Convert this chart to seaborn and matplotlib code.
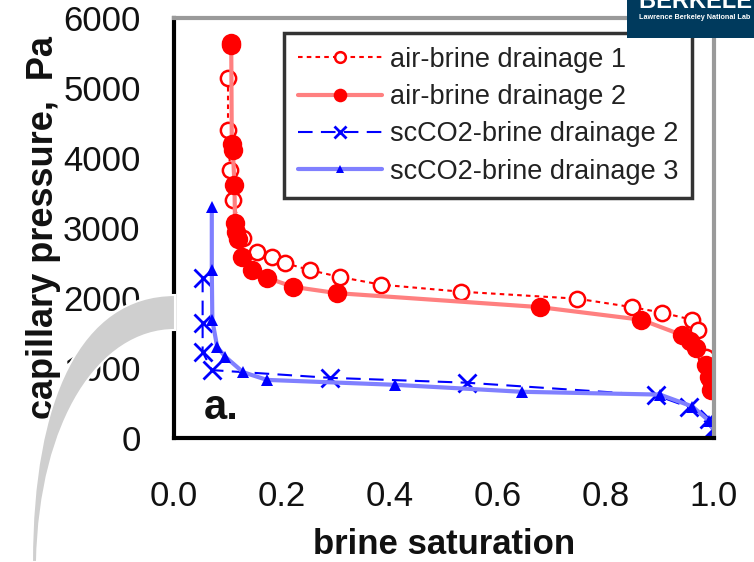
import matplotlib
matplotlib.use("Agg")
import matplotlib.pyplot as plt
import seaborn as sns
from matplotlib.path import Path
from matplotlib.patches import PathPatch, Rectangle

# Capillary pressure (Pa) versus brine saturation for four drainage runs
ab1_sat = [0.100, 0.100, 0.104, 0.109, 0.128, 0.153, 0.181, 0.205, 0.251, 0.307,
           0.384, 0.532, 0.747, 0.848, 0.904, 0.959, 0.970, 0.985, 0.993]
ab1_pc = [5140, 4400, 3830, 3400, 2860, 2660, 2590, 2500, 2400, 2300,
          2190, 2090, 1990, 1870, 1790, 1690, 1540, 1160, 830]

ab2_sat = [0.105, 0.106, 0.107, 0.109, 0.112, 0.113, 0.115, 0.118, 0.126, 0.144,
           0.172, 0.220, 0.301, 0.677, 0.865, 0.941, 0.955, 0.967, 0.985, 0.991, 0.995]
ab2_pc = [5640, 5620, 4200, 4110, 3610, 3070, 2940, 2850, 2590, 2400,
          2290, 2160, 2070, 1870, 1690, 1470, 1380, 1290, 1050, 870, 690]

co2_2_sat = [0.053, 0.053, 0.053, 0.070, 0.288, 0.542, 0.893, 0.954, 0.990, 0.998]
co2_2_pc = [2290, 1640, 1230, 970, 860, 790, 610, 440, 270, 130]

co2_3_sat = [0.070, 0.070, 0.071, 0.080, 0.095, 0.128, 0.172, 0.409, 0.645, 0.900,
             0.960, 0.990, 1.000]
co2_3_pc = [3300, 2400, 1680, 1300, 1160, 940, 830, 760, 660, 620, 450, 250, 100]

series_labels = ["air-brine drainage 1", "air-brine drainage 2",
                 "scCO2-brine drainage 2", "scCO2-brine drainage 3"]
x_ticks = [0.0, 0.2, 0.4, 0.6, 0.8, 1.0]
y_ticks = [0, 1000, 2000, 3000, 4000, 5000, 6000]

sns.set_theme(style="white")
plt.rcParams["font.family"] = ["Liberation Sans", "DejaVu Sans"]

W, H = 754, 562
fig = plt.figure(figsize=(W / 100, H / 100), dpi=100)
ax = fig.add_axes([174 / W, 1 - 438 / H, 540 / W, 420 / H])

common = dict(ax=ax, sort=False, estimator=None)
sns.lineplot(x=ab1_sat, y=ab1_pc, color="red", linestyle=(0, (2.2, 2)), lw=1.5,
             marker="o", markersize=11, markerfacecolor="white",
             markeredgecolor="red", markeredgewidth=1.8,
             label=series_labels[0], **common)
sns.lineplot(x=ab2_sat, y=ab2_pc, color=(1.0, 0.5, 0.5), lw=3,
             marker="o", markersize=14, markerfacecolor="red",
             markeredgecolor="red", markeredgewidth=0,
             label=series_labels[1], **common)
sns.lineplot(x=co2_2_sat, y=co2_2_pc, color="blue", linestyle=(0, (7, 4)), lw=1.5,
             marker="x", markersize=13, markeredgecolor="blue",
             markeredgewidth=2, label=series_labels[2], **common)
sns.lineplot(x=co2_3_sat, y=co2_3_pc, color=(0.5, 0.5, 1.0), lw=3,
             marker="^", markersize=9, markerfacecolor="blue",
             markeredgecolor="blue", markeredgewidth=0,
             label=series_labels[3], **common)

ax.set_xlim(0, 1.0)
ax.set_ylim(0, 6000)
ax.set_xticks(x_ticks)
ax.set_xticklabels([f"{v:.1f}" for v in x_ticks])
ax.set_yticks(y_ticks)
ax.set_yticklabels([str(v) for v in y_ticks])

for side in ("left", "bottom"):
    ax.spines[side].set_color("black")
    ax.spines[side].set_linewidth(3)
for side in ("top", "right"):
    ax.spines[side].set_color("#9a9a9a")
    ax.spines[side].set_linewidth(3)

ax.tick_params(axis="both", direction="in", length=7, width=2, color="#333333",
               labelsize=25, labelcolor="#111111")
ax.tick_params(axis="y", pad=24)
ax.tick_params(axis="x", pad=30)

ax.set_xlabel("brine saturation", fontsize=25, fontweight="bold", color="#111111")
ax.set_ylabel("capillary pressure,  Pa", fontsize=26, fontweight="bold", color="#111111")
ax.xaxis.set_label_coords(0.5, -0.215)
ax.yaxis.set_label_coords(-0.21, 0.5)

ax.text(0.055, 0.045, "a.", transform=ax.transAxes, fontsize=30, fontweight="bold",
        color="#111111", ha="left", va="baseline")

handles, labels = ax.get_legend_handles_labels()
leg = ax.legend(handles, labels, loc="upper right", bbox_to_anchor=(0.959, 0.964),
                borderaxespad=0, fontsize=19.5, markerscale=0.7, handlelength=3.1,
                handletextpad=0.3, labelspacing=0.42, fancybox=False,
                frameon=True, borderpad=0.5)
leg.get_frame().set_edgecolor("black")
leg.get_frame().set_linewidth(2.5)
for t in leg.get_texts():
    t.set_color("#222222")


def px(x, y):
    return (x / W, 1 - y / H)


# curved grey callout band sweeping out of the axis near 2000 Pa
verts = [px(175, 295), px(80, 295), px(32, 400), px(32, 562),
         px(37, 562), px(40, 420), px(100, 330), px(175, 330), px(175, 295)]
codes = [Path.MOVETO, Path.CURVE4, Path.CURVE4, Path.CURVE4,
         Path.LINETO, Path.CURVE4, Path.CURVE4, Path.CURVE4, Path.CLOSEPOLY]
band = PathPatch(Path(verts, codes), transform=fig.transFigure,
                 facecolor="#cfcfcf", edgecolor="white", lw=1.5, zorder=5)
fig.patches.append(band)

# lab banner in the top right corner
banner = Rectangle(px(627, 38), (W - 627) / W, 38 / H, transform=fig.transFigure,
                   facecolor="#003a5d", edgecolor="none", zorder=6)
fig.patches.append(banner)
fig.text(*px(639, 8), "BERKELEY LAB", color="white", fontsize=17,
         fontweight="bold", ha="left", va="baseline", zorder=7)
fig.text(*px(639, 19), "Lawrence Berkeley National Lab", color="white",
         fontsize=5.2, fontweight="bold", ha="left", va="baseline", zorder=7)

fig.savefig("out.png", dpi=100)
